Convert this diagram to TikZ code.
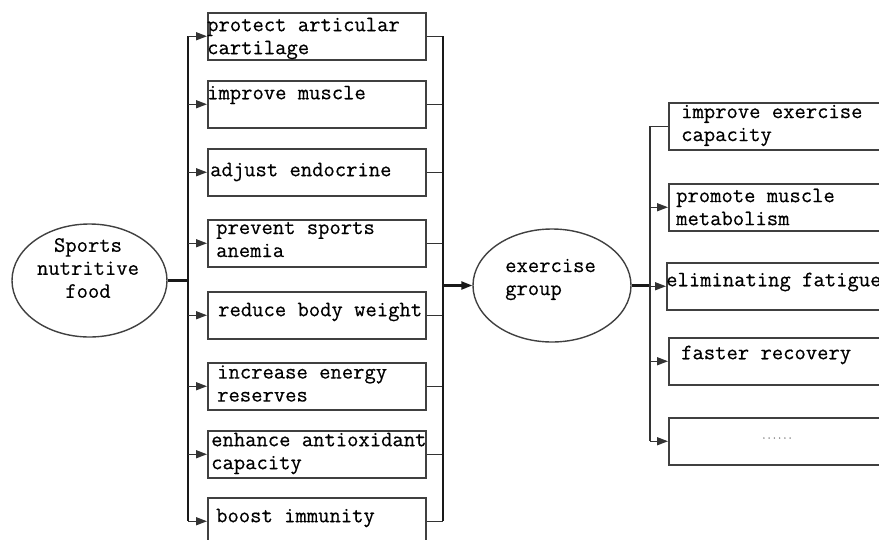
\documentclass[tikz,border=0pt]{standalone}
\usepackage{fontspec}
\setmonofont{Latin Modern Mono}[FakeBold=0.4]
\usetikzlibrary{shapes.geometric,arrows.meta}
\begin{document}
\begin{tikzpicture}[x=1pt,y=-1pt,
  font=\ttfamily\fontsize{22}{23}\selectfont,
  box/.style={draw=black!75, line width=1.5pt, rectangle, minimum height=47pt, inner sep=0pt, anchor=north west},
  lbox/.style={box, minimum width=218pt},
  rbox/.style={box, minimum width=240pt},
  oval/.style={draw=black!75, line width=1.4pt, ellipse, inner sep=0pt},
  lbl/.style={anchor=west, inner sep=0pt, align=left, text=black},
  conn/.style={draw=black!80, line width=1.5pt},
  bus/.style={draw=black!90, line width=2.2pt},
  tip/.style={-{Triangle[length=11pt,width=8pt]}},
  arr/.style={conn, tip}]
\clip (0,0) rectangle (879,539);
\useasboundingbox (0,0) rectangle (879,539);

% ellipses
\node[oval, minimum width=155pt, minimum height=113pt] (food) at (89.5,280.5) {};
\node[oval, minimum width=158pt, minimum height=113pt] (ex) at (552,285.5) {};
\node[inner sep=0pt, align=center] (foodt) at (88,268) {Sports\\nutritive\\food};
\node[lbl] (ext) at (505,279.5) {exercise\\group};

% left boxes
\node[lbox] (b1) at (207,12) {};
\node[lbox] (b2) at (207,80) {};
\node[lbox] (b3) at (207,148) {};
\node[lbox] (b4) at (207,219) {};
\node[lbox] (b5) at (207,291) {};
\node[lbox] (b6) at (207,362) {};
\node[lbox] (b7) at (207,430) {};
\node[lbox] (b8) at (207,497) {};

\node[lbl] (t1) at (207,38.5) {protect articular\\cartilage};
\node[lbl] (t2) at (207,95) {improve muscle};
\node[lbl] (t3) at (210,172) {adjust endocrine};
\node[lbl] (t4) at (216,239.5) {prevent sports\\anemia};
\node[lbl] (t5) at (218,312) {reduce body weight};
\node[lbl] (t6) at (217,383.5) {increase energy\\reserves};
\node[lbl] (t7) at (211,453.5) {enhance antioxidant\\capacity};
\node[lbl] (t8) at (216,518) {boost immunity};

% right boxes
\node[rbox] (r1) at (668,102) {};
\node[rbox] (r2) at (668,183) {};
\node[rbox] (r3) at (666,262) {};
\node[rbox] (r4) at (668,337) {};
\node[rbox] (r5) at (668,417) {};

\node[lbl] (u1) at (681,125.5) {improve exercise\\capacity};
\node[lbl] (u2) at (676,207) {promote muscle\\metabolism};
\node[lbl] (u3) at (666,282) {eliminating fatigue};
\node[lbl] (u4) at (681,355) {faster recovery};
\node[inner sep=0pt, text=black!50, font=\ttfamily\fontsize{10}{10}\selectfont] (u5) at (777,438) {......};

% bus coordinates
\coordinate (lbus) at (188,0);
\coordinate (rbus) at (443,0);
\coordinate (sbus) at (650,0);

% left side
\draw[bus] (food.east) -- (food.east -| lbus);
\draw[bus] (lbus |- b1.west) -- (lbus |- b8.west);
\foreach \b in {b1,b2,b3,b4,b5,b6,b7,b8}{
  \draw[arr] (lbus |- \b.west) -- (\b.west);
  \draw[conn] (\b.east) -- (rbus |- \b.east);
}
\draw[bus] (rbus |- b1.east) -- (rbus |- b8.east);
\draw[bus, tip] (rbus |- ex.west) -- (ex.west);

% right side
\draw[bus] (ex.east) -- (ex.east -| sbus);
\draw[conn] (sbus |- r1.west) -- (sbus |- r5.west);
\draw[conn] (sbus |- r1.west) -- (r1.west);
\foreach \r in {r2,r3,r4,r5}{
  \draw[arr] (sbus |- \r.west) -- (\r.west);
}
\end{tikzpicture}
\end{document}
